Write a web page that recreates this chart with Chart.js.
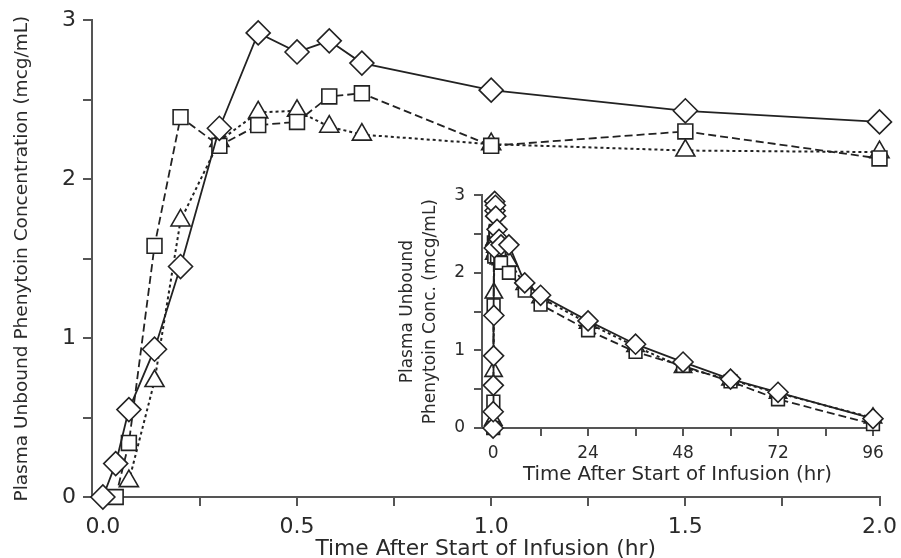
<!DOCTYPE html>
<html>
<head>
<meta charset="utf-8">
<script src="https://cdn.jsdelivr.net/npm/chart.js@4.4.1/dist/chart.umd.min.js"></script>
<style>
  html, body { margin:0; padding:0; background:#fff; overflow:hidden; }
  #wrap { position:relative; width:901px; height:558px; overflow:hidden; }
  #main { position:absolute; left:0; top:0; }
  #inset { position:absolute; left:380px; top:176px; }
</style>
</head>
<body>
<div id="wrap">
  <canvas id="main" width="905" height="558"></canvas>
  <canvas id="inset" width="516" height="312"></canvas>
</div>
<script>
// sampling times (hr) during the first 2 hours
var timeEarly = [0, 0.033, 0.067, 0.133, 0.2, 0.3, 0.4, 0.5, 0.583, 0.667, 1.0, 1.5, 2.0];
var diamondEarly = [0, 0.21, 0.55, 0.93, 1.45, 2.32, 2.92, 2.80, 2.87, 2.73, 2.56, 2.43, 2.36];
var squareEarly = [null, 0, 0.34, 1.58, 2.39, 2.21, 2.34, 2.36, 2.52, 2.54, 2.21, 2.30, 2.13];
var triangleEarly = [null, null, 0.10, 0.73, 1.74, 2.24, 2.42, 2.43, 2.33, 2.28, 2.22, 2.18, 2.17];

// later samples, only in the inset (hr)
var timeLate = [4, 8, 12, 24, 36, 48, 60, 72, 96];
var diamondLate = [2.36, 1.87, 1.71, 1.38, 1.08, 0.85, 0.63, 0.46, 0.12];
var squareLate = [2.00, 1.77, 1.59, 1.26, 0.98, 0.80, 0.60, 0.37, 0.05];
var triangleLate = [2.15, 1.85, 1.68, 1.35, 1.05, 0.78, 0.62, 0.45, 0.13];

// tick labels
var mainXLabels = [0, 0.5, 1.0, 1.5, 2.0];
var mainYLabels = [0, 1, 2, 3];
var insetXLabels = [0, 24, 48, 72, 96];
var insetYLabels = [0, 1, 2, 3];

var FONT = '"DejaVu Sans", "Liberation Sans", Arial, sans-serif';
var INK = '#222';
var AXIS = '#555';
var TEXT = '#2a2a2a';

function pairs(t, v) {
  var out = [];
  for (var i = 0; i < t.length; i++) {
    if (v[i] !== null) out.push({x: t[i], y: v[i]});
  }
  return out;
}

function hasLabel(list, v) {
  for (var i = 0; i < list.length; i++) {
    if (Math.abs(list[i] - v) < 1e-6) return true;
  }
  return false;
}

function series(data, style, r, order) {
  var ds = {
    data: data,
    borderColor: INK,
    borderWidth: 1.8,
    pointStyle: style,
    pointRadius: r,
    pointBackgroundColor: '#fff',
    pointBorderColor: INK,
    pointBorderWidth: 1.6,
    fill: false,
    tension: 0,
    clip: false,
    order: order
  };
  if (style === 'rect') ds.borderDash = [8, 4];
  if (style === 'triangle') { ds.borderDash = [3, 3]; ds.borderWidth = 2; }
  return ds;
}

function axis(opts) {
  return {
    type: 'linear',
    min: opts.min,
    max: opts.max,
    border: {display: true, color: AXIS, width: 2},
    grid: {drawOnChartArea: false, drawTicks: true, tickLength: opts.tickLength, color: AXIS, lineWidth: 2},
    ticks: {
      stepSize: opts.step,
      includeBounds: false,
      autoSkip: false,
      maxRotation: 0,
      padding: opts.padding,
      color: TEXT,
      font: {family: FONT, size: opts.fontSize},
      callback: function (v) { return hasLabel(opts.labels, v) ? opts.fmt(v) : ''; }
    },
    title: {
      display: true,
      text: opts.title,
      color: TEXT,
      font: {family: FONT, size: opts.titleSize, lineHeight: opts.titleLH || 1.0},
      padding: opts.titlePad
    },
    afterFit: opts.fit
  };
}

Chart.defaults.animation = false;

new Chart(document.getElementById('main').getContext('2d'), {
  type: 'line',
  data: {
    datasets: [
      series(pairs(timeEarly, diamondEarly), 'rectRot', 12, 1),
      series(pairs(timeEarly, squareEarly), 'rect', 10.5, 2),
      series(pairs(timeEarly, triangleEarly), 'triangle', 11, 3)
    ]
  },
  options: {
    responsive: false,
    animation: false,
    layout: {padding: {left: 0, right: 21, top: 20, bottom: 0}},
    plugins: {legend: {display: false}, tooltip: {enabled: false}},
    scales: {
      x: axis({
        min: -0.028, max: 2.0, step: 0.25, labels: mainXLabels,
        fmt: function (v) { return v.toFixed(1); },
        tickLength: 9, padding: 8, fontSize: 22,
        title: 'Time After Start of Infusion (hr)', titleSize: 21.8,
        titlePad: {top: 0, bottom: -2},
        fit: function (s) { s.height = 61; }
      }),
      y: axis({
        min: 0, max: 3, step: 0.5, labels: mainYLabels,
        fmt: function (v) { return String(v); },
        tickLength: 9, padding: 7, fontSize: 22,
        title: 'Plasma Unbound Phenytoin Concentration (mcg/mL)', titleSize: 18.5, titleLH: 1.2,
        titlePad: {top: 11, bottom: 0},
        fit: function (s) { s.width = 92; }
      })
    }
  }
});

new Chart(document.getElementById('inset').getContext('2d'), {
  type: 'line',
  data: {
    datasets: [
      series(pairs(timeEarly.concat(timeLate), diamondEarly.concat(diamondLate)), 'rectRot', 10, 1),
      series(pairs(timeEarly.concat(timeLate), squareEarly.concat(squareLate)), 'rect', 9, 2),
      series(pairs(timeEarly.concat(timeLate), triangleEarly.concat(triangleLate)), 'triangle', 10, 3)
    ]
  },
  options: {
    responsive: false,
    animation: false,
    layout: {padding: {left: 0, right: 23, top: 15, bottom: 0}},
    plugins: {legend: {display: false}, tooltip: {enabled: false}},
    scales: {
      x: axis({
        min: -2.8, max: 96, step: 12, labels: insetXLabels,
        fmt: function (v) { return String(v); },
        tickLength: 8, padding: 7, fontSize: 17,
        title: 'Time After Start of Infusion (hr)', titleSize: 19.8,
        titlePad: {top: 0, bottom: 3},
        fit: function (s) { s.height = 60; }
      }),
      y: axis({
        min: 0, max: 3, step: 0.5, labels: insetYLabels,
        fmt: function (v) { return String(v); },
        tickLength: 8, padding: 9, fontSize: 17,
        title: ['Plasma Unbound', 'Phenytoin Conc. (mcg/mL)'], titleSize: 17, titleLH: 1.3,
        titlePad: {top: 17, bottom: 0},
        fit: function (s) { s.width = 102; }
      })
    }
  }
});
</script>
</body>
</html>
